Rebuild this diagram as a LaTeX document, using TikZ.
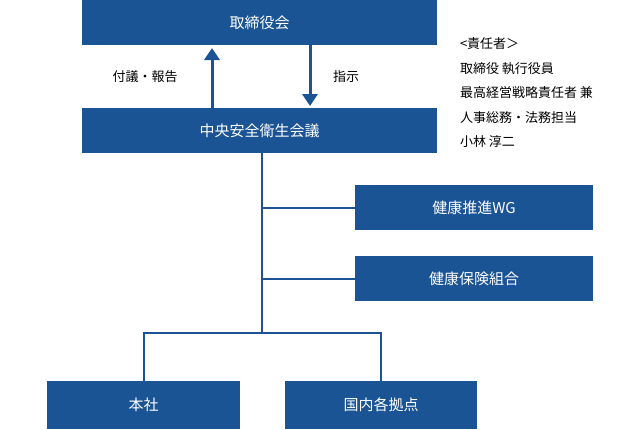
\documentclass[tikz,border=0pt]{standalone}
\usepackage{fontspec}
\setmainfont{Noto Sans CJK JP}
\usetikzlibrary{arrows.meta}
\definecolor{orgblue}{HTML}{1B5494}
\begin{document}
\begin{tikzpicture}[x=1pt, y=-1pt, every node/.style={outer sep=0pt, inner sep=0pt},
  orgbox/.style={draw=none, fill=orgblue, text=white, font=\fontsize{15}{18}\selectfont, minimum height=45pt},
  link/.style={draw=orgblue, line width=2pt},
  flow/.style={draw=orgblue, line width=3pt, -{Triangle[length=12pt, width=15pt]}}]
  \useasboundingbox (0,0) rectangle (640,429);
  \node[orgbox, minimum width=355pt] (board) at (259.5,22.5) {取締役会};
  \node[orgbox, minimum width=355pt] (council) at (259.5,130.5) {中央安全衛生会議};
  \node[orgbox, minimum width=238pt] (wg) at (474,207.5) {健康推進WG};
  \node[orgbox, minimum width=238pt] (union) at (474,278.5) {健康保険組合};
  \node[orgbox, minimum width=193pt, minimum height=48pt] (hq) at (143.5,405) {本社};
  \node[orgbox, minimum width=192pt, minimum height=48pt] (site) at (381,405) {国内各拠点};
  % arrows between board and council
  \draw[flow] (212,108) -- (212,48);
  \draw[flow] (310,45) -- (310,106);
  \node[font=\fontsize{13}{15}\selectfont] (report) at (145,77) {付議・報告};
  \node[font=\fontsize{13}{15}\selectfont] (order) at (346,77) {指示};
  % responsible person
  \node[anchor=north west, align=left, font=\fontsize{13}{24.5}\selectfont] (resp) at (460,38)
    {<責任者＞\\取締役 執行役員\\最高経営戦略責任者 兼\\人事総務・法務担当\\小林 淳二};
  % tree
  \coordinate (split) at (262,333);
  \draw[link] (262,153) -- (split);
  \draw[link] (262,207.5) -- (wg.west);
  \draw[link] (262,278.5) -- (union.west);
  \draw[link] (143.5,381) |- (split) -| (381,381);
\end{tikzpicture}
\end{document}
